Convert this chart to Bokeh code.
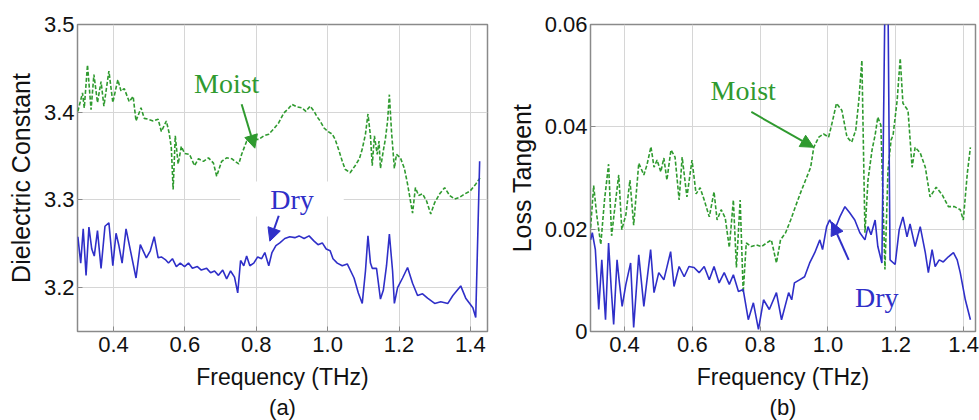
from bokeh.plotting import figure
from bokeh.layouts import row
from bokeh.models import Range1d, Label, Arrow, NormalHead, Title, FixedTicker
from bokeh.embed import file_html
from bokeh.resources import INLINE

# ---------------- data: panel (a) dielectric constant ----------------
a_moist_f = [0.300, 0.313, 0.318, 0.327, 0.337, 0.345, 0.355, 0.365, 0.373, 0.387,
             0.398, 0.412, 0.421, 0.430, 0.444, 0.455, 0.463, 0.477, 0.486, 0.497,
             0.511, 0.525, 0.534, 0.548, 0.556, 0.562, 0.567, 0.573, 0.581, 0.590,
             0.599, 0.613, 0.627, 0.638, 0.652, 0.666, 0.680, 0.689, 0.703, 0.717,
             0.731, 0.751, 0.759, 0.773, 0.787, 0.807, 0.821, 0.835, 0.849, 0.863,
             0.877, 0.892, 0.900, 0.914, 0.928, 0.939, 0.951, 0.962, 0.970, 0.979,
             0.990, 1.001, 1.013, 1.021, 1.032, 1.041, 1.049, 1.063, 1.077, 1.089,
             1.097, 1.106, 1.113, 1.120, 1.125, 1.131, 1.139, 1.144, 1.148, 1.156,
             1.162, 1.168, 1.173, 1.179, 1.187, 1.193, 1.204, 1.215, 1.224, 1.232,
             1.238, 1.246, 1.255, 1.266, 1.277, 1.289, 1.300, 1.314, 1.328, 1.342,
             1.356, 1.370, 1.385, 1.399, 1.415, 1.427]
a_moist_v = [3.401, 3.422, 3.405, 3.454, 3.403, 3.443, 3.411, 3.435, 3.407, 3.447,
             3.411, 3.437, 3.424, 3.427, 3.412, 3.418, 3.390, 3.405, 3.393, 3.392,
             3.390, 3.392, 3.378, 3.390, 3.376, 3.359, 3.312, 3.373, 3.341, 3.361,
             3.353, 3.352, 3.339, 3.347, 3.344, 3.348, 3.342, 3.327, 3.344, 3.348,
             3.347, 3.341, 3.352, 3.367, 3.369, 3.369, 3.373, 3.375, 3.381, 3.388,
             3.399, 3.405, 3.409, 3.406, 3.405, 3.401, 3.407, 3.401, 3.395, 3.390,
             3.382, 3.378, 3.375, 3.369, 3.356, 3.344, 3.335, 3.331, 3.339, 3.347,
             3.358, 3.375, 3.398, 3.373, 3.339, 3.373, 3.352, 3.367, 3.336, 3.356,
             3.370, 3.390, 3.420, 3.378, 3.336, 3.352, 3.348, 3.336, 3.318, 3.299,
             3.285, 3.314, 3.305, 3.307, 3.299, 3.284, 3.297, 3.307, 3.314, 3.305,
             3.301, 3.303, 3.307, 3.310, 3.318, 3.325]

a_dry_f = [0.300, 0.308, 0.315, 0.323, 0.331, 0.339, 0.346, 0.355, 0.365, 0.376,
           0.387, 0.398, 0.407, 0.415, 0.424, 0.435, 0.449, 0.463, 0.475, 0.483,
           0.492, 0.503, 0.514, 0.525, 0.534, 0.545, 0.554, 0.565, 0.576, 0.587,
           0.599, 0.610, 0.621, 0.635, 0.646, 0.661, 0.672, 0.683, 0.694, 0.706,
           0.717, 0.728, 0.739, 0.748, 0.756, 0.765, 0.773, 0.782, 0.793, 0.804,
           0.815, 0.824, 0.835, 0.844, 0.855, 0.866, 0.880, 0.894, 0.908, 0.920,
           0.934, 0.948, 0.962, 0.973, 0.985, 0.996, 1.007, 1.015, 1.027, 1.041,
           1.055, 1.074, 1.086, 1.097, 1.106, 1.113, 1.120, 1.125, 1.137, 1.148,
           1.156, 1.165, 1.173, 1.182, 1.187, 1.196, 1.210, 1.224, 1.238, 1.252,
           1.266, 1.280, 1.300, 1.317, 1.337, 1.351, 1.373, 1.387, 1.407, 1.415,
           1.426]
a_dry_v = [3.258, 3.228, 3.267, 3.214, 3.269, 3.244, 3.236, 3.265, 3.222, 3.270,
           3.274, 3.225, 3.262, 3.248, 3.228, 3.267, 3.239, 3.211, 3.249, 3.242,
           3.234, 3.242, 3.258, 3.234, 3.235, 3.232, 3.228, 3.233, 3.224, 3.228,
           3.224, 3.228, 3.222, 3.224, 3.220, 3.222, 3.217, 3.219, 3.214, 3.220,
           3.210, 3.219, 3.212, 3.194, 3.231, 3.225, 3.236, 3.225, 3.228, 3.235,
           3.233, 3.240, 3.225, 3.240, 3.248, 3.251, 3.256, 3.258, 3.257, 3.259,
           3.256, 3.259, 3.253, 3.249, 3.251, 3.244, 3.242, 3.233, 3.228, 3.225,
           3.227, 3.211, 3.194, 3.182, 3.219, 3.259, 3.228, 3.222, 3.222, 3.187,
           3.197, 3.225, 3.261, 3.219, 3.182, 3.200, 3.211, 3.223, 3.205, 3.191,
           3.193, 3.188, 3.182, 3.184, 3.182, 3.191, 3.202, 3.188, 3.177, 3.166,
           3.344]

# ---------------- data: panel (b) loss tangent ----------------
b_moist_f = [0.300, 0.309, 0.318, 0.330, 0.341, 0.353, 0.362, 0.374, 0.383, 0.392,
             0.404, 0.416, 0.427, 0.442, 0.457, 0.466, 0.478, 0.487, 0.496, 0.507,
             0.516, 0.525, 0.537, 0.549, 0.561, 0.570, 0.584, 0.599, 0.611, 0.623,
             0.635, 0.650, 0.664, 0.673, 0.685, 0.697, 0.709, 0.721, 0.730, 0.741,
             0.750, 0.759, 0.774, 0.789, 0.804, 0.819, 0.833, 0.848, 0.860, 0.875,
             0.890, 0.904, 0.919, 0.934, 0.949, 0.958, 0.973, 0.987, 1.002, 1.014,
             1.025, 1.041, 1.056, 1.070, 1.082, 1.091, 1.100, 1.109, 1.118, 1.130,
             1.139, 1.147, 1.156, 1.168, 1.177, 1.186, 1.192, 1.204, 1.213, 1.221,
             1.236, 1.248, 1.257, 1.272, 1.287, 1.301, 1.319, 1.337, 1.355, 1.373,
             1.390, 1.399, 1.411, 1.420]
b_moist_v = [0.0203, 0.0285, 0.0228, 0.0170, 0.0257, 0.0327, 0.0187, 0.0257, 0.0306, 0.0199,
             0.0228, 0.0296, 0.0208, 0.0329, 0.0306, 0.0325, 0.0361, 0.0321, 0.0335, 0.0312,
             0.0339, 0.0296, 0.0355, 0.0341, 0.0257, 0.0341, 0.0263, 0.0335, 0.0269, 0.0281,
             0.0257, 0.0224, 0.0273, 0.0218, 0.0238, 0.0222, 0.0164, 0.0257, 0.0125, 0.0257,
             0.0076, 0.0173, 0.0166, 0.0169, 0.0166, 0.0173, 0.0179, 0.0134, 0.0179, 0.0193,
             0.0218, 0.0244, 0.0271, 0.0296, 0.0321, 0.0360, 0.0380, 0.0386, 0.0380, 0.0413,
             0.0446, 0.0432, 0.0380, 0.0370, 0.0394, 0.0452, 0.0530, 0.0193, 0.0296, 0.0355,
             0.0384, 0.0419, 0.0403, 0.0121, 0.0316, 0.0374, 0.0384, 0.0452, 0.0534, 0.0446,
             0.0432, 0.0321, 0.0360, 0.0349, 0.0321, 0.0263, 0.0282, 0.0267, 0.0244, 0.0244,
             0.0238, 0.0218, 0.0310, 0.0360]

b_dry_f = [0.300, 0.305, 0.314, 0.324, 0.333, 0.344, 0.353, 0.361, 0.368, 0.378,
           0.384, 0.393, 0.404, 0.418, 0.427, 0.442, 0.457, 0.477, 0.487, 0.501,
           0.516, 0.536, 0.546, 0.561, 0.576, 0.590, 0.605, 0.620, 0.635, 0.650,
           0.664, 0.679, 0.694, 0.709, 0.721, 0.736, 0.750, 0.765, 0.780, 0.795,
           0.810, 0.827, 0.848, 0.863, 0.884, 0.893, 0.901, 0.916, 0.931, 0.946,
           0.961, 0.976, 0.984, 0.996, 1.005, 1.020, 1.035, 1.050, 1.064, 1.079,
           1.094, 1.109, 1.118, 1.127, 1.139, 1.147, 1.159, 1.168, 1.177, 1.183,
           1.198, 1.210, 1.221, 1.233, 1.242, 1.257, 1.272, 1.287, 1.296, 1.307,
           1.316, 1.328, 1.340, 1.355, 1.370, 1.381, 1.390, 1.405, 1.420]
b_dry_v = [0.0179, 0.0193, 0.0160, 0.0043, 0.0140, 0.0023, 0.0173, 0.0082, 0.0014, 0.0140,
           0.0101, 0.0049, 0.0092, 0.0134, 0.0008, 0.0150, 0.0049, 0.0160, 0.0076, 0.0115,
           0.0101, 0.0156, 0.0088, 0.0127, 0.0107, 0.0127, 0.0125, 0.0115, 0.0127, 0.0101,
           0.0127, 0.0095, 0.0115, 0.0092, 0.0111, 0.0078, 0.0082, 0.0023, 0.0056, 0.0004,
           0.0062, 0.0043, 0.0076, 0.0023, 0.0076, 0.0062, 0.0095, 0.0101, 0.0107, 0.0134,
           0.0154, 0.0179, 0.0160, 0.0205, 0.0218, 0.0199, 0.0224, 0.0244, 0.0232, 0.0218,
           0.0193, 0.0179, 0.0205, 0.0189, 0.0218, 0.0166, 0.0134, 0.0650, 0.0650, 0.0140,
           0.0131, 0.0199, 0.0224, 0.0185, 0.0210, 0.0166, 0.0205, 0.0154, 0.0115, 0.0160,
           0.0127, 0.0140, 0.0136, 0.0146, 0.0154, 0.0140, 0.0115, 0.0062, 0.0023]

x_ticks = [0.4, 0.6, 0.8, 1.0, 1.2, 1.4]
x_tick_labels = ["0.4", "0.6", "0.8", "1.0", "1.2", "1.4"]
a_y_ticks = [3.2, 3.3, 3.4, 3.5]
a_y_tick_labels = ["3.2", "3.3", "3.4", "3.5"]
b_y_ticks = [0.0, 0.02, 0.04, 0.06]
b_y_tick_labels = ["0", "0.02", "0.04", "0.06"]

GREEN = "#2f9a2f"
BLUE = "#2f2fc8"
SANS = "Liberation Sans"
SERIF = "Liberation Serif"


def make_panel(width, mb_left, mb_right, mb_top, mb_bottom, xr, yr, yticks, ylabels, ylabel, tag):
    p = figure(width=width, height=420, output_backend="svg", toolbar_location=None,
               title=None, x_range=Range1d(*xr), y_range=Range1d(*yr),
               min_border_left=mb_left, min_border_right=mb_right,
               min_border_top=mb_top, min_border_bottom=mb_bottom)
    p.background_fill_color = "white"
    p.border_fill_color = "white"
    p.outline_line_color = "#8a8a8a"
    p.outline_line_width = 1.5
    p.xaxis.ticker = FixedTicker(ticks=x_ticks)
    p.xaxis.major_label_overrides = dict(zip(x_ticks, x_tick_labels))
    p.yaxis.ticker = FixedTicker(ticks=yticks)
    p.yaxis.major_label_overrides = dict(zip(yticks, ylabels))
    for ax in (p.xaxis[0], p.yaxis[0]):
        ax.axis_line_color = None
        ax.major_tick_in = 5
        ax.major_tick_out = 0
        ax.major_tick_line_color = "#8a8a8a"
        ax.minor_tick_line_color = None
        ax.major_label_text_font = SANS
        ax.major_label_text_font_size = "22px"
        ax.major_label_text_color = "#111111"
        ax.axis_label_text_font = SANS
        ax.axis_label_text_font_style = "normal"
        ax.axis_label_text_color = "#111111"
    p.xaxis.axis_label = "Frequency (THz)"
    p.xaxis.axis_label_text_font_size = "23px"
    p.xaxis.major_label_standoff = 5
    p.xaxis.axis_label_standoff = 9
    p.yaxis.axis_label = ylabel
    p.yaxis.axis_label_text_font_size = "25px"
    p.yaxis.major_label_standoff = 3
    p.yaxis.axis_label_standoff = 6
    p.xgrid.grid_line_color = "#d6d6d6"
    p.ygrid.grid_line_color = "#d6d6d6"
    p.xgrid.ticker = FixedTicker(ticks=x_ticks)
    p.ygrid.ticker = FixedTicker(ticks=yticks)
    p.add_layout(Title(text=tag, align="center", text_font=SANS, text_font_size="22px",
                       text_font_style="normal", text_color="#111111", standoff=0), "below")
    return p


# ---------------- panel (a) ----------------
pa = make_panel(490, 77, 3, 23, 89, (0.299, 1.448), (3.15, 3.5),
                a_y_ticks, a_y_tick_labels, "Dielectric Constant", "(a)")
pa.line(a_moist_f, a_moist_v, line_color=GREEN, line_width=1.6, line_dash="4 2")
pa.line(a_dry_f, a_dry_v, line_color=BLUE, line_width=1.6)
pa.add_layout(Label(x=0.717, y=3.433, text="Moist", text_font=SERIF, text_font_size="28px",
                    text_color=GREEN, text_align="center", text_baseline="middle"))
pa.add_layout(Arrow(end=NormalHead(size=13, fill_color=GREEN, line_color=GREEN),
                    x_start=0.759, y_start=3.409, x_end=0.796, y_end=3.359,
                    line_color=GREEN, line_width=2))
pa.add_layout(Label(x=0.9, y=3.301, text="Dry", text_font=SERIF, text_font_size="28px",
                    text_color=BLUE, text_align="center", text_baseline="middle",
                    background_fill_color="white", padding=(30, 2)))
pa.add_layout(Arrow(end=NormalHead(size=13, fill_color=BLUE, line_color=BLUE),
                    x_start=0.863, y_start=3.282, x_end=0.838, y_end=3.253,
                    line_color=BLUE, line_width=2))

# ---------------- panel (b) ----------------
pb = make_panel(489, 100, 4, 24, 88, (0.2997, 1.435), (0.0, 0.06),
                b_y_ticks, b_y_tick_labels, "Loss Tangent", "(b)")
pb.line(b_moist_f, b_moist_v, line_color=GREEN, line_width=1.6, line_dash="4 2")
pb.line(b_dry_f, b_dry_v, line_color=BLUE, line_width=1.6)
pb.add_layout(Label(x=0.750, y=0.0471, text="Moist", text_font=SERIF, text_font_size="28px",
                    text_color=GREEN, text_align="center", text_baseline="middle"))
pb.add_layout(Arrow(end=NormalHead(size=13, fill_color=GREEN, line_color=GREEN),
                    x_start=0.774, y_start=0.0429, x_end=0.958, y_end=0.0360,
                    line_color=GREEN, line_width=2))
pb.add_layout(Label(x=1.144, y=0.0067, text="Dry", text_font=SERIF, text_font_size="28px",
                    text_color=BLUE, text_align="center", text_baseline="middle"))
pb.add_layout(Arrow(end=NormalHead(size=13, fill_color=BLUE, line_color=BLUE),
                    x_start=1.061, y_start=0.0140, x_end=1.011, y_end=0.0214,
                    line_color=BLUE, line_width=2))

layout = row(pa, pb)
open("out.html", "w").write(file_html(layout, INLINE))
